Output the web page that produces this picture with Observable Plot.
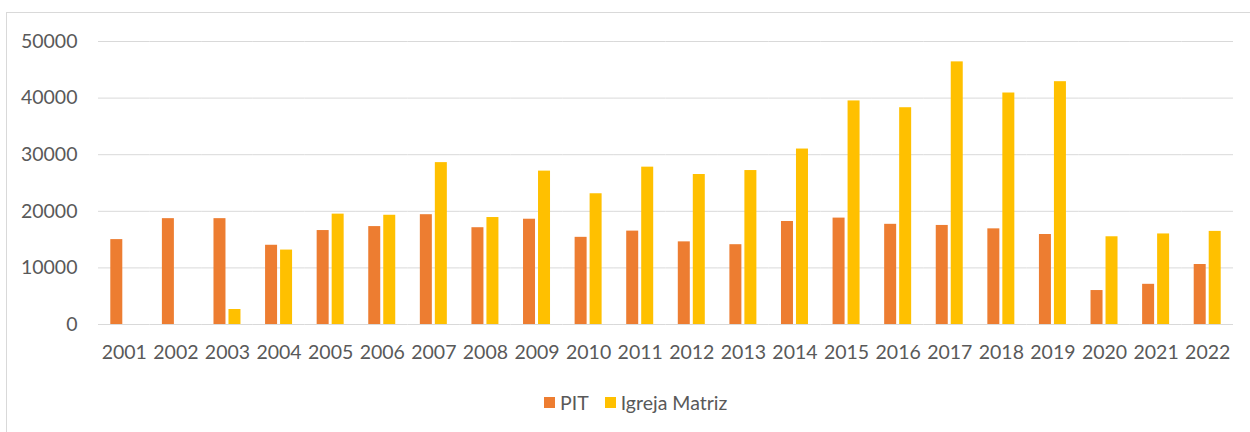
<!DOCTYPE html>
<html><head><meta charset="utf-8">
<script src="https://cdn.jsdelivr.net/npm/d3@7"></script>
<script src="https://cdn.jsdelivr.net/npm/@observablehq/plot@0.6"></script>
<style>
body{margin:0;background:#fff;font-family:Lato,"Open Sans",sans-serif;}
#wrap{position:relative;width:1250px;height:432px;overflow:hidden;background:#fff;}
#frame{position:absolute;left:6px;top:12px;width:1400px;height:600px;border:1px solid #d9d9d9;box-sizing:border-box;}
#chart{position:absolute;left:0;top:0;}
#legend{position:absolute;left:544px;top:391px;font-size:19.5px;color:#595959;display:flex;align-items:center;white-space:nowrap;}
#legend .sw{display:inline-block;width:11px;height:11px;margin-right:5px;}
#legend .item{display:flex;align-items:center;margin-right:16px;}
</style>
</head><body>
<div id="wrap"><div id="frame"></div><div id="chart"></div><div id="legend"></div></div>
<script>
const years = ["2001","2002","2003","2004","2005","2006","2007","2008","2009","2010","2011","2012","2013","2014","2015","2016","2017","2018","2019","2020","2021","2022"];
const series = ["PIT","Igreja Matriz"];
const colors = ["#ED7D31","#FFC000"];
const pit = [15000,18700,18700,14000,16600,17300,19400,17100,18600,15400,16500,14600,14100,18200,18800,17700,17500,16900,15900,6000,7100,10600];
const igreja = [null,null,2650,13150,19500,19300,28600,18900,27100,23100,27800,26500,27200,31000,39500,38300,46400,40900,42900,15500,16000,16450];
const yTicks = [0,10000,20000,30000,40000,50000];

const data = [];
years.forEach((yr,i)=>{
  if (pit[i] != null) data.push({year:yr, series:"PIT", value:pit[i]});
  if (igreja[i] != null) data.push({year:yr, series:"Igreja Matriz", value:igreja[i]});
});

const chart = Plot.plot({
  width:1250, height:370,
  marginLeft:98, marginRight:17, marginTop:41, marginBottom:46,
  style:{fontFamily:"Lato, 'Open Sans', sans-serif", fontSize:"19.5px", color:"#595959", background:"transparent"},
  fx:{domain:years, paddingInner:0, paddingOuter:0, round:false, label:null, tickSize:0, tickPadding:21, axis:"bottom"},
  x:{domain:series, paddingInner:0.2, paddingOuter:0.82, round:false, axis:null},
  y:{domain:[0,50000], ticks:yTicks, tickSize:0, tickPadding:21, label:null, tickFormat:d=>String(d)},
  color:{domain:series, range:colors},
  marks:[
    Plot.ruleY(yTicks,{stroke:"#d9d9d9", strokeWidth:1}),
    Plot.barY(data,{fx:"year", x:"series", y:"value", fill:"series"})
  ]
});
document.getElementById("chart").appendChild(chart);

const lg = document.getElementById("legend");
series.forEach((s,i)=>{
  const it = document.createElement("span"); it.className="item";
  const sw = document.createElement("span"); sw.className="sw"; sw.style.background=colors[i];
  it.appendChild(sw); it.appendChild(document.createTextNode(s));
  lg.appendChild(it);
});
</script>
</body></html>
